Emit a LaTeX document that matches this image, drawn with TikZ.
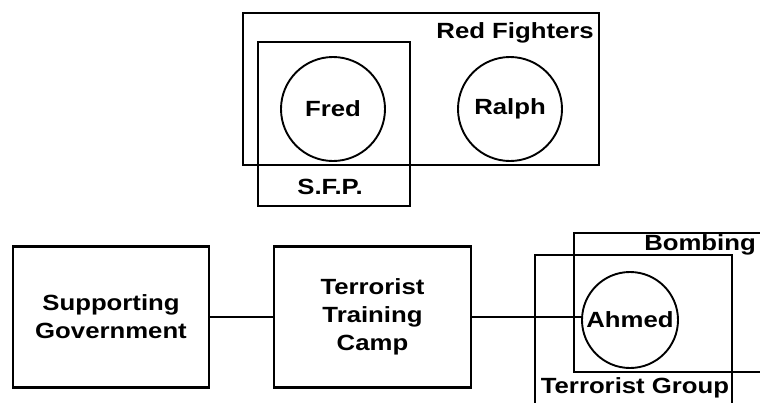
\documentclass[tikz,border=0pt]{standalone}
\usepackage{fontspec}
\setmainfont{Liberation Sans}[FakeStretch=1.17]
\begin{document}
\begin{tikzpicture}[x=1pt,y=-1pt,
  frame/.style={draw, line width=2.4pt, inner sep=0pt, outer sep=0pt},
  person/.style={draw, circle, line width=1.9pt, inner sep=0pt, outer sep=0pt},
  lbl/.style={font=\fontsize{22}{28}\selectfont\bfseries, inner sep=0pt, align=center},
  link/.style={line width=2.2pt}]
\useasboundingbox (0,0) rectangle (760,402);
\clip (0,0) rectangle (760,402);
% top group
\node[frame, minimum width=356pt, minimum height=152pt] (red) at (421,89) {};
\node[frame, minimum width=152pt, minimum height=164pt] (sfp) at (334,124) {};
\node[person, minimum size=104pt, lbl] (fred) at (333,109) {Fred};
\node[person, minimum size=104pt, lbl] (ralph) at (510,109) {Ralph};
\node[lbl, anchor=east] (redlbl) at (594,33) {Red Fighters};
\node[lbl] (sfplbl) at (330,187) {S.F.P.};
% bottom chain
\node[frame, minimum width=196pt, minimum height=141pt, lbl] (gov) at (111,317) {Supporting\\Government};
\node[frame, minimum width=197pt, minimum height=141pt, lbl] (camp) at (372.5,317) {Terrorist\\Training\\Camp};
\node[frame, minimum width=220pt, minimum height=139pt] (bomb) at (684,302.5) {};
\node[frame, minimum width=197pt, minimum height=180pt] (tgroup) at (633.5,345) {};
\node[person, minimum size=96pt, lbl] (ahmed) at (630,320) {Ahmed};
\node[lbl, anchor=east] (bomblbl) at (756,245) {Bombing};
\node[lbl] (tglbl) at (635,388) {Terrorist Group};
\draw[link] (gov.east) -- (camp.west);
\draw[link] (camp.east) -- (camp.east -| ahmed.west);
\end{tikzpicture}
\end{document}
